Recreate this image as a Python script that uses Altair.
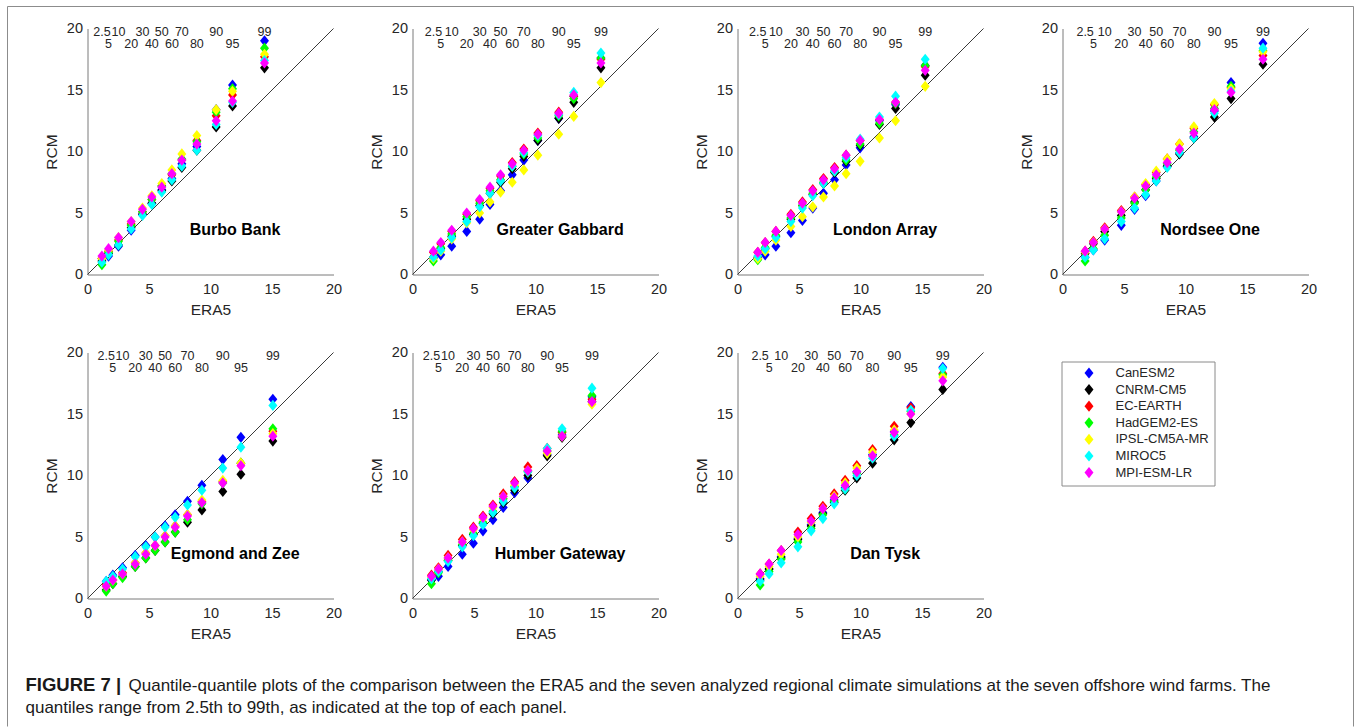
import altair as alt
import pandas as pd

MODELS = ["CanESM2", "CNRM-CM5", "EC-EARTH", "HadGEM2-ES", "IPSL-CM5A-MR", "MIROC5", "MPI-ESM-LR"]
COLORS = ["#0000ff", "#000000", "#ff0000", "#00ff00", "#ffff00", "#00ffff", "#ff00ff"]
QUANTILES = ["2.5", "5", "10", "20", "30", "40", "50", "60", "70", "80", "90", "95", "99"]
FARMS = ["Burbo Bank", "Greater Gabbard", "London Array", "Nordsee One",
         "Egmond and Zee", "Humber Gateway", "Dan Tysk"]
AXIS_TICKS = [0, 5, 10, 15, 20]

# ERA5 quantiles (x) per farm
ERA5_BURBO = [1.17, 1.71, 2.52, 3.55, 4.47, 5.23, 6.04, 6.86, 7.67, 8.89, 10.46, 11.79, 14.39]
ERA5_GABBARD = [1.70, 2.30, 3.19, 4.41, 5.46, 6.30, 7.16, 8.11, 9.05, 10.19, 11.89, 13.11, 15.32]
ERA5_LONDON = [1.65, 2.25, 3.12, 4.34, 5.28, 6.12, 6.99, 7.89, 8.83, 9.97, 11.54, 12.85, 15.26]
ERA5_NORDSEE = [1.84, 2.51, 3.43, 4.78, 5.86, 6.76, 7.62, 8.51, 9.51, 10.68, 12.35, 13.70, 16.30]
ERA5_EGMOND = [1.52, 2.06, 2.85, 3.88, 4.74, 5.50, 6.31, 7.13, 8.13, 9.30, 11.00, 12.47, 15.07]
ERA5_HUMBER = [1.54, 2.11, 2.89, 4.05, 4.95, 5.73, 6.54, 7.38, 8.30, 9.38, 10.95, 12.16, 14.59]
ERA5_DANTYSK = [1.84, 2.57, 3.55, 4.91, 5.99, 6.94, 7.86, 8.75, 9.70, 10.98, 12.74, 14.09, 16.69]

# RCM quantiles (y) per farm, one row per model in MODELS order
RCM_BURBO = [
    [1.3, 1.5, 2.3, 3.6, 4.9, 5.8, 6.9, 7.8, 9.0, 10.4, 13.4, 15.4, 19.0],
    [1.1, 1.7, 2.4, 3.8, 4.9, 5.8, 6.8, 7.6, 8.7, 10.1, 12.0, 13.7, 16.8],
    [1.3, 1.9, 2.8, 4.1, 5.1, 6.1, 7.2, 8.1, 9.3, 10.9, 12.9, 14.6, 17.7],
    [0.8, 1.8, 2.7, 4.0, 5.1, 6.1, 7.2, 8.2, 9.4, 10.8, 13.2, 15.1, 18.4],
    [1.3, 2.0, 3.0, 4.3, 5.4, 6.4, 7.4, 8.5, 9.8, 11.3, 13.4, 14.9, 17.9],
    [1.0, 1.6, 2.4, 3.7, 4.8, 5.7, 6.7, 7.7, 8.8, 10.1, 12.2, 14.0, 17.4],
    [1.5, 2.1, 3.0, 4.3, 5.3, 6.3, 7.1, 8.2, 9.3, 10.6, 12.5, 14.1, 17.2],
]
RCM_GABBARD = [
    [1.3, 1.6, 2.3, 3.5, 4.5, 5.7, 6.8, 8.1, 9.3, 10.9, 12.7, 14.5, 17.6],
    [1.4, 2.1, 3.1, 4.5, 5.6, 6.6, 7.5, 8.6, 9.6, 10.9, 12.7, 14.0, 16.8],
    [1.8, 2.5, 3.5, 4.9, 6.0, 7.0, 8.0, 9.1, 10.2, 11.5, 13.2, 14.5, 17.5],
    [1.1, 2.2, 3.3, 4.7, 5.8, 6.8, 7.7, 8.8, 9.8, 11.1, 12.9, 14.3, 17.6],
    [1.3, 1.9, 2.9, 4.2, 5.0, 5.9, 6.7, 7.5, 8.5, 9.7, 11.4, 12.85, 15.6],
    [1.4, 2.0, 3.0, 4.3, 5.5, 6.6, 7.6, 8.8, 9.9, 11.3, 13.0, 14.8, 18.0],
    [1.9, 2.6, 3.6, 5.0, 6.1, 7.1, 8.1, 9.0, 10.1, 11.4, 13.1, 14.6, 17.2],
]
RCM_LONDON = [
    [1.3, 1.6, 2.3, 3.4, 4.4, 5.4, 6.6, 7.7, 8.9, 10.3, 12.5, 13.8, 17.0],
    [1.4, 2.1, 3.1, 4.5, 5.6, 6.5, 7.4, 8.3, 9.2, 10.5, 12.2, 13.5, 16.2],
    [1.8, 2.6, 3.5, 4.9, 5.9, 6.9, 7.8, 8.7, 9.7, 10.9, 12.6, 14.0, 16.9],
    [1.2, 2.2, 3.2, 4.6, 5.6, 6.6, 7.5, 8.4, 9.3, 10.6, 12.3, 13.9, 17.0],
    [1.3, 1.9, 2.8, 3.9, 4.7, 5.5, 6.3, 7.2, 8.2, 9.2, 11.1, 12.5, 15.3],
    [1.5, 2.1, 3.0, 4.3, 5.4, 6.4, 7.4, 8.4, 9.5, 11.0, 12.8, 14.5, 17.5],
    [1.8, 2.6, 3.5, 4.8, 5.8, 6.8, 7.7, 8.6, 9.7, 10.9, 12.6, 14.0, 16.6],
]
RCM_NORDSEE = [
    [1.4, 2.0, 2.8, 4.0, 5.3, 6.4, 7.6, 8.8, 9.9, 11.2, 13.3, 15.6, 18.8],
    [1.7, 2.5, 3.5, 4.8, 5.9, 6.9, 7.8, 8.8, 9.8, 11.1, 12.8, 14.3, 17.1],
    [1.9, 2.7, 3.8, 5.2, 6.3, 7.3, 8.3, 9.4, 10.6, 11.9, 13.8, 15.2, 17.8],
    [1.1, 2.1, 3.2, 4.6, 5.8, 6.9, 7.9, 9.0, 10.1, 11.6, 13.5, 15.3, 18.2],
    [1.8, 2.6, 3.7, 5.1, 6.3, 7.4, 8.4, 9.4, 10.6, 12.0, 13.9, 15.1, 18.1],
    [1.4, 2.0, 2.9, 4.3, 5.4, 6.5, 7.6, 8.7, 9.9, 11.1, 13.1, 14.9, 18.4],
    [1.9, 2.6, 3.7, 5.1, 6.2, 7.2, 8.1, 9.1, 10.2, 11.5, 13.4, 14.8, 17.5],
]
RCM_EGMOND = [
    [1.4, 1.9, 2.5, 3.5, 4.3, 5.0, 5.9, 6.8, 7.9, 9.2, 11.3, 13.1, 16.2],
    [0.7, 1.2, 1.8, 2.6, 3.3, 3.9, 4.6, 5.4, 6.2, 7.2, 8.7, 10.1, 12.8],
    [1.1, 1.5, 2.1, 2.9, 3.7, 4.3, 5.1, 5.9, 6.8, 7.9, 9.5, 11.0, 13.6],
    [0.6, 1.2, 1.7, 2.6, 3.3, 3.9, 4.6, 5.4, 6.4, 7.7, 9.4, 11.0, 13.8],
    [1.0, 1.5, 2.0, 2.9, 3.7, 4.3, 5.1, 5.9, 6.8, 8.0, 9.6, 11.0, 13.4],
    [1.4, 1.8, 2.4, 3.4, 4.2, 5.0, 5.8, 6.6, 7.6, 8.8, 10.6, 12.3, 15.7],
    [1.0, 1.5, 2.0, 2.8, 3.6, 4.3, 5.0, 5.8, 6.7, 7.8, 9.4, 10.8, 13.2],
]
RCM_HUMBER = [
    [1.5, 1.8, 2.6, 3.6, 4.5, 5.5, 6.4, 7.4, 8.6, 9.8, 11.7, 13.3, 16.4],
    [1.5, 2.2, 3.1, 4.3, 5.2, 6.1, 6.9, 7.8, 8.8, 10.0, 11.6, 13.1, 16.0],
    [1.9, 2.5, 3.5, 4.8, 5.8, 6.7, 7.6, 8.5, 9.5, 10.7, 12.2, 13.5, 16.2],
    [1.2, 2.1, 3.1, 4.4, 5.3, 6.2, 7.1, 8.1, 9.1, 10.3, 12.0, 13.6, 16.5],
    [1.7, 2.4, 3.3, 4.6, 5.6, 6.5, 7.4, 8.3, 9.2, 10.4, 11.8, 13.2, 15.8],
    [1.6, 2.2, 3.0, 4.2, 5.1, 6.0, 7.0, 7.9, 9.0, 10.3, 12.2, 13.8, 17.1],
    [1.8, 2.4, 3.3, 4.6, 5.7, 6.6, 7.5, 8.3, 9.4, 10.4, 12.0, 13.2, 16.0],
]
RCM_DANTYSK = [
    [1.6, 2.4, 3.4, 4.9, 6.0, 7.0, 8.0, 9.0, 10.3, 11.7, 13.6, 15.6, 18.8],
    [1.5, 2.4, 3.3, 4.8, 5.9, 6.9, 7.8, 8.8, 9.8, 11.0, 12.9, 14.3, 17.0],
    [2.0, 2.8, 3.9, 5.4, 6.5, 7.5, 8.5, 9.6, 10.8, 12.1, 14.0, 15.5, 18.3],
    [1.1, 2.2, 3.2, 4.6, 5.7, 6.8, 7.9, 8.9, 10.2, 11.6, 13.3, 15.2, 18.2],
    [1.8, 2.6, 3.6, 5.0, 6.2, 7.3, 8.3, 9.4, 10.6, 11.9, 13.7, 15.0, 18.0],
    [1.4, 2.0, 2.9, 4.2, 5.5, 6.5, 7.7, 8.9, 10.0, 11.4, 13.2, 15.3, 18.7],
    [2.0, 2.8, 3.9, 5.2, 6.3, 7.3, 8.2, 9.2, 10.3, 11.6, 13.5, 15.0, 17.7],
]

CAPTION_LABEL = "FIGURE 7 |"
CAPTION_LINE1 = ("Quantile-quantile plots of the comparison between the ERA5 and the seven analyzed "
                 "regional climate simulations at the seven offshore wind farms. The")
CAPTION_LINE2 = "quantiles range from 2.5th to 99th, as indicated at the top of each panel."

ERA5_ALL = [ERA5_BURBO, ERA5_GABBARD, ERA5_LONDON, ERA5_NORDSEE, ERA5_EGMOND, ERA5_HUMBER, ERA5_DANTYSK]
RCM_ALL = [RCM_BURBO, RCM_GABBARD, RCM_LONDON, RCM_NORDSEE, RCM_EGMOND, RCM_HUMBER, RCM_DANTYSK]

FONT = "Liberation Sans"
DIAMOND = "M0,-1L0.8,0L0,1L-0.8,0Z"
W = 246
TEXT = "#262626"


def panel(i):
    era5 = ERA5_ALL[i]
    rcm = RCM_ALL[i]
    rows = []
    for m, vals in zip(MODELS, rcm):
        for q, x, y in zip(QUANTILES, era5, vals):
            rows.append({"model": m, "quantile": q, "era5": x, "rcm": y})
    pts = pd.DataFrame(rows)
    qdf = pd.DataFrame({
        "era5": era5,
        "label": QUANTILES,
        "ly": [19.72 if k % 2 == 0 else 18.72 for k in range(len(QUANTILES))],
    })
    xs = alt.Scale(domain=[0, 20], nice=False, zero=False)
    ys = alt.Scale(domain=[0, 20], nice=False, zero=False)
    xaxis = alt.Axis(values=AXIS_TICKS, title="ERA5", grid=False, ticks=False, tickSize=0,
                     labelPadding=8, titlePadding=6, labelFlush=False, format="d")
    yaxis = alt.Axis(values=AXIS_TICKS, title="RCM", grid=False, ticks=False, tickSize=0,
                     labelPadding=5, titlePadding=7, labelFlush=False, format="d")

    diag = alt.Chart(pd.DataFrame({"a": [0, 20], "b": [0, 20]})).mark_line(
        color="#3a3a3a", strokeWidth=1
    ).encode(x=alt.X("a:Q", scale=xs, axis=xaxis), y=alt.Y("b:Q", scale=ys, axis=yaxis))

    points = alt.Chart(pts).mark_point(
        filled=True, shape=DIAMOND, size=125, opacity=1
    ).encode(
        x=alt.X("era5:Q", scale=xs, axis=xaxis),
        y=alt.Y("rcm:Q", scale=ys, axis=yaxis),
        color=alt.Color(
            "model:N",
            scale=alt.Scale(domain=MODELS, range=COLORS),
            legend=alt.Legend(
                orient="none", legendX=974, legendY=333, title=None,
                symbolType=DIAMOND, symbolSize=125, symbolStrokeWidth=0,
                labelFont=FONT, labelFontSize=13, labelColor=TEXT,
                padding=5, strokeColor="#8a8a8a", fillColor="white",
                symbolOffset=16, labelOffset=20, rowPadding=2.6,
            ),
        ),
    )

    qlabels = alt.Chart(qdf).mark_text(
        font=FONT, fontSize=12.5, color=TEXT, align="center", baseline="middle"
    ).encode(x=alt.X("era5:Q", scale=xs), y=alt.Y("ly:Q", scale=ys), text="label:N")

    name = alt.Chart(pd.DataFrame({"name": [FARMS[i]], "nx": [12.0], "ny": [3.65]})).mark_text(
        font=FONT, fontSize=16, fontWeight="bold", color="#000000", align="center", baseline="middle"
    ).encode(x=alt.X("nx:Q", scale=xs), y=alt.Y("ny:Q", scale=ys), text="name:N")

    layers = [diag, points, qlabels, name]

    if i == 0:
        one = pd.DataFrame({"a": [0]})
        frame = alt.Chart(one).mark_rule(color="#8c8c8c", strokeWidth=1)
        layers += [
            frame.encode(x=alt.value(-80), x2=alt.value(1266), y=alt.value(-22)),
            frame.encode(x=alt.value(-80), y=alt.value(-22), y2=alt.value(698)),
            frame.encode(x=alt.value(1266), y=alt.value(-22), y2=alt.value(698)),
        ]
    if i == 4:
        cap = pd.DataFrame({"a": [0]})
        layers += [
            alt.Chart(cap).mark_text(font=FONT, fontSize=18.5, fontWeight="bold", color="#1a1a1a",
                                     align="left", baseline="alphabetic").encode(
                x=alt.value(-62), y=alt.value(338), text=alt.value(CAPTION_LABEL)),
            alt.Chart(cap).mark_text(font=FONT, fontSize=17, color="#1a1a1a",
                                     align="left", baseline="alphabetic").encode(
                x=alt.value(41), y=alt.value(338), text=alt.value(CAPTION_LINE1)),
            alt.Chart(cap).mark_text(font=FONT, fontSize=17, color="#1a1a1a",
                                     align="left", baseline="alphabetic").encode(
                x=alt.value(-62), y=alt.value(360), text=alt.value(CAPTION_LINE2)),
        ]
    return alt.layer(*layers).properties(width=W, height=W)


panels = [panel(i) for i in range(7)]

chart = alt.concat(
    *panels, columns=4, spacing=alt.RowColnumber(row=78, column=79), bounds="flush"
).properties(
    padding={"left": 6.5, "top": 5.5, "right": 0, "bottom": 0},
    background="white",
).configure_view(
    stroke=None
).configure_axis(
    domainColor="#7a7a7a", domainWidth=1,
    labelColor=TEXT, titleColor=TEXT,
    labelFont=FONT, titleFont=FONT,
    labelFontSize=14.5, titleFontSize=15.5, titleFontWeight="normal",
)

chart.save("out.html", embed_options={"renderer": "svg", "actions": False})
